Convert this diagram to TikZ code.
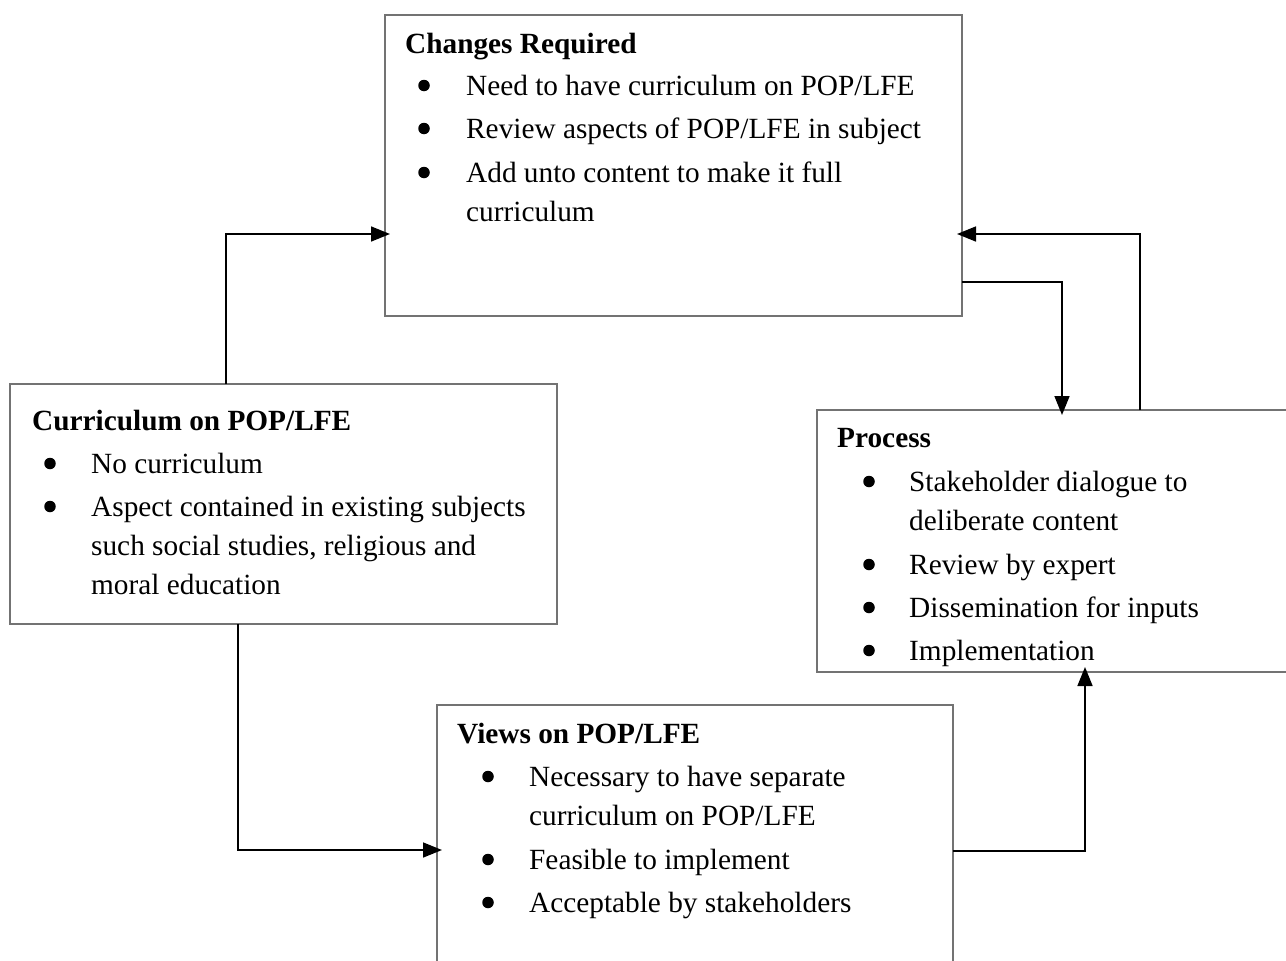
\documentclass[tikz,border=0pt]{standalone}
\usepackage{fontspec}
\setmainfont{Liberation Serif}
\usetikzlibrary{arrows.meta,calc}
\tikzset{
  box/.style={draw=black!55, line width=1.1pt, rectangle, inner sep=0pt, outer sep=0pt},
  txt/.style={anchor=base west, inner sep=0pt, font=\fontsize{29.3}{39}\selectfont},
  ttl/.style={txt, font=\fontsize{29.3}{39}\selectfont\bfseries},
  bul/.style={circle, fill=black, inner sep=0pt, minimum size=11.5pt, yshift=9.5pt},
  arr/.style={draw=black, line width=1.6pt, -{Triangle[length=19pt,width=15pt]}, shorten >=-5pt}
}
\begin{document}
\begin{tikzpicture}[x=1pt,y=-1pt]
\clip (0,0) rectangle (1286,961);
\fill[white] (0,0) rectangle (1286,961);
% boxes
\node[box, minimum width=577pt, minimum height=301pt] (A) at (673.5,165.5) {};
\node[box, minimum width=547pt, minimum height=240pt] (B) at (283.5,504) {};
\node[box, minimum width=483pt, minimum height=262pt] (C) at (1058.5,541) {};
\node[box, minimum width=516pt, minimum height=270pt] (D) at (695,840) {};
% Box A text
\node[ttl] (a0) at (405,53) {Changes Required};
\node[bul] (ab1) at (424,95) {};
\node[txt] (a1) at (466,95) {Need to have curriculum on POP/LFE};
\node[bul] (ab2) at (424,138) {};
\node[txt] (a2) at (466,138) {Review aspects of POP/LFE in subject};
\node[bul] (ab3) at (424,182) {};
\node[txt] (a3) at (466,182) {Add unto content to make it full};
\node[txt] (a4) at (466,221) {curriculum};
% Box B text
\node[ttl] (b0) at (32,430) {Curriculum on POP/LFE};
\node[bul] (bb1) at (50,473) {};
\node[txt] (b1) at (91,473) {No curriculum};
\node[bul] (bb2) at (50,516) {};
\node[txt] (b2) at (91,516) {Aspect contained in existing subjects};
\node[txt] (b3) at (91,555) {such social studies, religious and};
\node[txt] (b4) at (91,594) {moral education};
% Box C text
\node[ttl] (c0) at (837,447) {Process};
\node[bul] (cb1) at (869,491) {};
\node[txt] (c1) at (909,491) {Stakeholder dialogue to};
\node[txt] (c2) at (909,530) {deliberate content};
\node[bul] (cb2) at (869,574) {};
\node[txt] (c3) at (909,574) {Review by expert};
\node[bul] (cb3) at (869,617) {};
\node[txt] (c4) at (909,617) {Dissemination for inputs};
\node[bul] (cb4) at (869,660) {};
\node[txt] (c5) at (909,660) {Implementation};
% Box D text
\node[ttl] (d0) at (457,743) {Views on POP/LFE};
\node[bul] (db1) at (488,786) {};
\node[txt] (d1) at (529,786) {Necessary to have separate};
\node[txt] (d2) at (529,825) {curriculum on POP/LFE};
\node[bul] (db2) at (488,869) {};
\node[txt] (d3) at (529,869) {Feasible to implement};
\node[bul] (db3) at (488,912) {};
\node[txt] (d4) at (529,912) {Acceptable by stakeholders};
% connectors
\draw[arr] ([xshift=216pt]B.north west) |- ([yshift=-219pt]A.north west);
\draw[arr] ([xshift=228pt]B.south west) |- ([yshift=-145pt]D.north west);
\draw[arr] ([yshift=-146pt]D.north east) -| ([xshift=268pt]C.south west);
\draw[arr] ([yshift=-267pt]A.north east) -| ([xshift=245pt]C.north west);
\draw[arr] ([xshift=323pt]C.north west) |- ([yshift=-219pt]A.north east);
\end{tikzpicture}
\end{document}
